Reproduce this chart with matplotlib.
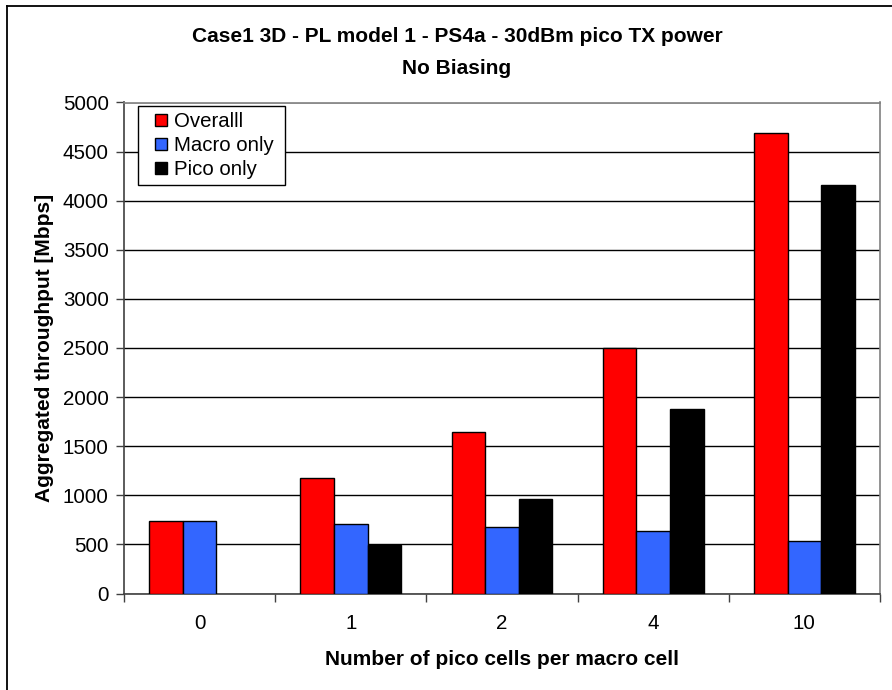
import numpy as np
import matplotlib
matplotlib.use("Agg")
import matplotlib.pyplot as plt
from matplotlib.lines import Line2D
from matplotlib.patches import Rectangle
from matplotlib.container import BarContainer
from matplotlib.legend_handler import HandlerPatch, update_from_first_child

plt.rcParams['font.family'] = ['Liberation Sans', 'DejaVu Sans']

groups = ["0", "1", "2", "4", "10"]
overall = [740, 1180, 1640, 2500, 4685]
macro_only = [740, 712, 677, 635, 537]
pico_only = [None, 492, 963, 1878, 4160]

series = [("Overalll", overall, "#FF0000"),
          ("Macro only", macro_only, "#3366FF"),
          ("Pico only", pico_only, "#000000")]

fig = plt.figure(figsize=(8.92, 6.90), dpi=100)
ax = fig.add_axes([124/892, 1 - 593.5/690, (880-124)/892, (593.5-102.5)/690])

# outer chart frame (left and top edges visible)
fig.add_artist(Line2D([7/892, 7/892], [0, 1 - 6/690], color="black", lw=1.3, transform=fig.transFigure))
fig.add_artist(Line2D([7/892, 1], [1 - 6/690, 1 - 6/690], color="black", lw=1.3, transform=fig.transFigure))

x = np.arange(len(groups))
w = 0.222
for i, (name, vals, col) in enumerate(series):
    xs = [x[k] + (i - 1) * w for k in range(len(vals)) if vals[k] is not None]
    hs = [v for v in vals if v is not None]
    ax.bar(xs, hs, width=w, color=col, edgecolor="black", linewidth=1, label=name + " ", zorder=3)

ax.set_xlim(-0.5, len(groups) - 0.5)
ax.set_ylim(0, 5000)
ax.set_yticks(np.arange(0, 5001, 500))
ax.yaxis.grid(True, color="black", linewidth=1, zorder=0)
ax.set_axisbelow(True)

ax.set_xticks(x)
ax.set_xticklabels(groups)
ax.set_xticks(np.arange(-0.5, len(groups), 1), minor=True)
ax.tick_params(axis="x", which="major", length=0, pad=15, labelsize=14.8)
ax.tick_params(axis="x", which="minor", length=6, width=1, color="#404040", direction="out")
ax.tick_params(axis="y", length=6, width=1, color="#404040", direction="out", pad=5, labelsize=14.8)

for s in ["top", "right"]:
    ax.spines[s].set_color("#808080")
    ax.spines[s].set_linewidth(1.2)
for s in ["left", "bottom"]:
    ax.spines[s].set_color("#404040")
    ax.spines[s].set_linewidth(1.2)

ax.set_xlabel("Number of pico cells per macro cell", fontsize=15, fontweight="bold", labelpad=12)
ax.set_ylabel("Aggregated throughput [Mbps]", fontsize=15, fontweight="bold", labelpad=6)

fig.text(457/892, 1 - 37/690, "Case1 3D - PL model 1 - PS4a - 30dBm pico TX power",
         ha="center", va="center", fontsize=15, fontweight="bold")
fig.text(457/892, 1 - 68/690, "No Biasing", ha="center", va="center", fontsize=15, fontweight="bold")


# small square swatch sitting at the right side of the handle box
def square(legend, orig_handle, xdescent, ydescent, width, height, fontsize):
    s = 8.5
    return Rectangle((-xdescent + width - s, -ydescent + (height - s) / 2), s, s)


leg = ax.legend(loc="upper left", bbox_to_anchor=(14/756, 1 - 3.5/491), fontsize=14.7,
                frameon=True, fancybox=False, edgecolor="black", framealpha=1,
                handlelength=1.1, handleheight=0.6, handletextpad=0.35,
                borderpad=0.3, labelspacing=0.25, borderaxespad=0,
                handler_map={BarContainer: HandlerPatch(patch_func=square,
                                                        update_func=update_from_first_child)})
leg.get_frame().set_linewidth(1)
leg.set_zorder(5)

fig.savefig("out.png", dpi=100)
